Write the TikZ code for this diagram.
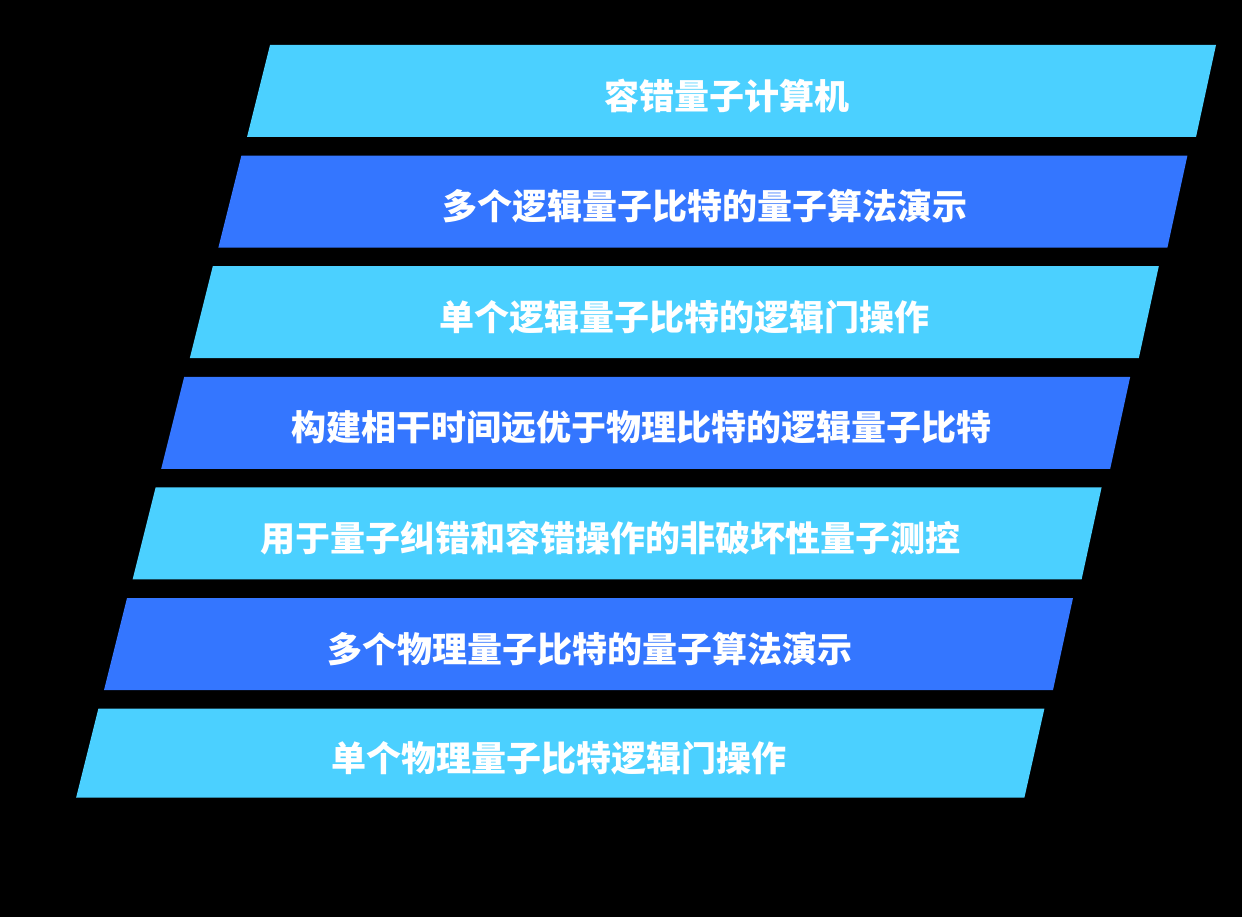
\documentclass[tikz,border=0pt]{standalone}
\usepackage{fontspec}
\newfontfamily\cjk{Noto Sans CJK SC}
\definecolor{lightbar}{HTML}{4BD0FF}
\definecolor{darkbar}{HTML}{3476FF}
\begin{document}
\begin{tikzpicture}[x=1pt,y=-1pt,
  label/.style={text=white,font=\cjk\bfseries\fontsize{35}{35}\selectfont,inner sep=0pt,anchor=center}]
\useasboundingbox (0,0) rectangle (1242,917);
\fill[black] (0,0) rectangle (1242,917);
\foreach \i/\txt/\col/\cx/\h in {
  0/容错量子计算机/lightbar/727/92,
  1/多个逻辑量子比特的量子算法演示/darkbar/704.5/92,
  2/单个逻辑量子比特的逻辑门操作/lightbar/684.5/92,
  3/构建相干时间远优于物理比特的逻辑量子比特/darkbar/641/92,
  4/用于量子纠错和容错操作的非破坏性量子测控/lightbar/610/92,
  5/多个物理量子比特的量子算法演示/darkbar/589.5/92,
  6/单个物理量子比特逻辑门操作/lightbar/559/89}{
  \pgfmathsetmacro\ty{45+110.6*\i}
  \pgfmathsetmacro\by{\ty+\h}
  \pgfmathsetmacro\tl{270-28.6*\i}
  \pgfmathsetmacro\tr{1216-28.6*\i}
  \pgfmathsetmacro\my{\ty+\h/2+5}
  \fill[\col] (\tl,\ty) -- (\tr,\ty) -- (\tr-20,\by) -- (\tl-23*\h/92,\by) -- cycle;
  \node[label] (t\i) at (\cx,\my) {\txt};
}
\end{tikzpicture}
\end{document}
